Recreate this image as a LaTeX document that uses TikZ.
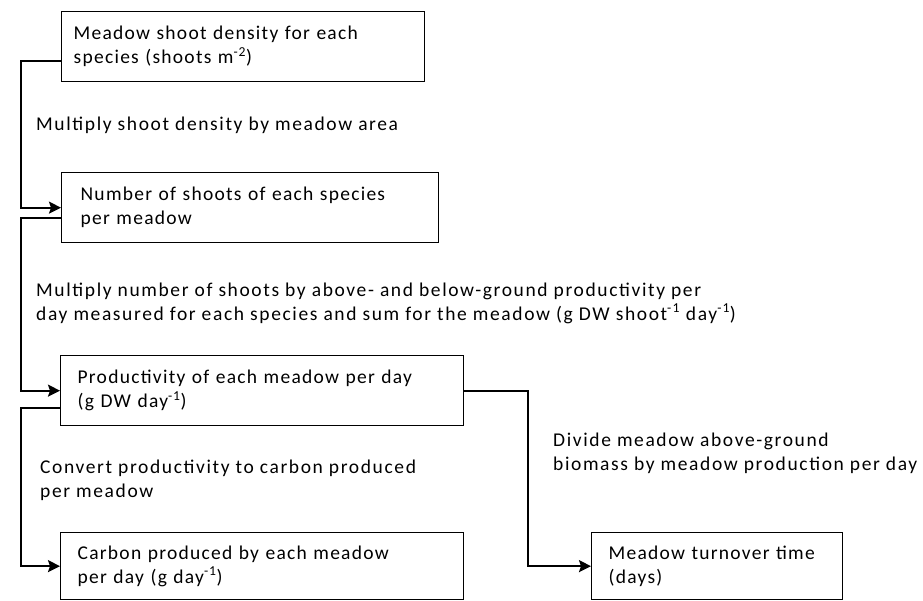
\documentclass[tikz,border=0pt]{standalone}
\usepackage{fontspec}
\setmainfont{Carlito}
\newfontfamily\boxfont[LetterSpace=6.5]{Carlito}
\newfontfamily\notefont[LetterSpace=8.3]{Carlito}
\usetikzlibrary{arrows.meta}

\begin{document}
\begin{tikzpicture}[x=1pt,y=-1pt,>={Stealth[length=12pt,width=12pt,inset=2pt]},
  box/.style={draw,line width=1.3pt,anchor=north west,align=left,inner xsep=17pt,inner ysep=0pt,font=\boxfont\fontsize{19.5}{24}\selectfont},
  note/.style={anchor=west,align=left,inner sep=0pt,font=\notefont\fontsize{19.5}{24}\selectfont},
  flow/.style={->,line width=1.8pt}]
  \useasboundingbox (0,0) rectangle (923,600);
  % boxes
  \node[box,inner xsep=12pt,text width=339pt,minimum height=70pt] (den) at (61,11) {Meadow shoot density for each\\species (shoots m\textsuperscript{-2})};
  \node[box,inner xsep=19pt,text width=339pt,minimum height=70pt] (num) at (61,172) {Number of shoots of each species\\per meadow};
  \node[box,text width=369pt,minimum height=70pt] (prod) at (60,355) {Productivity of each meadow per day\\(g DW day\textsuperscript{-1})};
  \node[box,text width=369pt,minimum height=67pt] (carb) at (60,532) {Carbon produced by each meadow\\per day (g day\textsuperscript{-1})};
  \node[box,text width=217pt,minimum height=67pt] (turn) at (591,532) {Meadow turnover time\\(days)};
  % steps
  \node[note] (l1) at (36,125) {Multiply shoot density by meadow area};
  \node[note] (l2) at (36,303) {Multiply number of shoots by above- and below-ground productivity per\\day measured for each species and sum for the meadow (g DW shoot\textsuperscript{-1} day\textsuperscript{-1})};
  \node[note] (l3) at (40,480) {Convert productivity to carbon produced\\per meadow};
  \node[note] (l4) at (553,453) {Divide meadow above-ground\\biomass by meadow production per day};
  % connectors
  \draw[flow] ([yshift=-14pt]den.west) -- ++(-40,0) |- (num.west);
  \draw[flow] ([yshift=-10pt]num.west) -- ++(-40,0) |- (prod.west);
  \draw[flow] ([yshift=-17pt]prod.west) -- ++(-39,0) |- (carb.west);
  \draw[flow] (prod.east) -- ++(64,0) |- (turn.west);
\end{tikzpicture}
\end{document}
